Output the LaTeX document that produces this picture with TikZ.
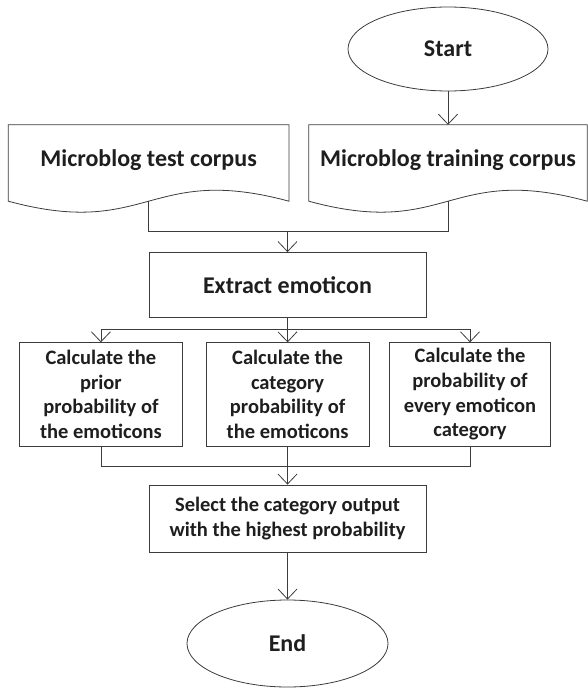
\documentclass[tikz,border=0pt]{standalone}
\usepackage{fontspec}
\setmainfont{Carlito}
\usetikzlibrary{arrows.meta,shapes.geometric,calc}
\definecolor{linegray}{HTML}{3C3C3C}
\definecolor{inkgray}{HTML}{1E1E1E}
\begin{document}
\begin{tikzpicture}[x=1pt,y=-1pt,
  every node/.style={text=inkgray,font=\bfseries},
  bigtext/.style={font=\fontsize{24}{28}\selectfont\bfseries},
  smalltext/.style={font=\fontsize{20.5}{24.6}\selectfont\bfseries},
  terminal/.style={ellipse,draw=linegray,line width=0.8pt,inner sep=0pt,bigtext},
  docbox/.style={rectangle,inner sep=0pt,bigtext,text height=18pt,text depth=12pt},
  procbox/.style={rectangle,draw=linegray,line width=0.8pt,inner sep=0pt,align=center},
  conn/.style={draw=linegray,line width=0.8pt},
  arr/.style={conn,-{Straight Barb[length=10pt,width=19pt]}}]
\useasboundingbox (0,0) rectangle (588,688);

% terminals
\node[terminal,minimum width=200pt,minimum height=84pt] (start) at (448,49) {Start};
\node[terminal,minimum width=201pt,minimum height=87pt] (end) at (287.5,643.5) {End};

% document-shaped inputs: text nodes, outline drawn from their anchors
\node[docbox,minimum width=280.2pt,minimum height=76pt] (test) at (148.6,163) {Microblog test corpus};
\node[docbox,minimum width=278pt,minimum height=76pt] (train) at (448,163) {Microblog training corpus};
\foreach \d in {test,train}{
  \draw[conn] (\d.south west) -- (\d.north west) -- (\d.north east) -- (\d.south east)
    .. controls ($(\d.south)+(0,-38)$) and ($(\d.south)+(0,38)$) .. (\d.south west) -- cycle;
}

% process steps
\node[procbox,bigtext,minimum width=277pt,minimum height=65pt] (extract) at (287.5,285) {Extract emoticon};
\node[procbox,smalltext,minimum width=163.7pt,minimum height=103.3pt] (c1) at (100.9,394.4)
  {Calculate the\\prior\\probability of\\the emoticons};
\node[procbox,smalltext,minimum width=163.3pt,minimum height=103.3pt] (c2) at (287.6,394.4)
  {Calculate the\\category\\probability of\\the emoticons};
\node[procbox,smalltext,minimum width=161.4pt,minimum height=103.3pt] (c3) at (470,394.4)
  {Calculate the\\probability of\\every emoticon\\category};
\node[procbox,smalltext,minimum width=277pt,minimum height=67pt] (select) at (287.5,518.5)
  {Select the category output\\with the highest probability};

% junction points
\coordinate (joinA) at (287.5,231);
\coordinate (split) at (287.5,329.3);
\coordinate (joinB) at (287.5,466.5);

% connectors
\draw[arr] (start.south) -- (train.north);
\draw[conn] (test.south) |- (joinA);
\draw[conn] (train.south) |- (joinA);
\draw[arr] (joinA) -- (extract.north);
\draw[conn] (extract.south) -- (split);
\draw[arr] (split) -| (c1.north);
\draw[arr] (split) -| (c3.north);
\draw[arr] (split) -- (c2.north);
\draw[conn] (c1.south) |- (joinB);
\draw[conn] (c3.south) |- (joinB);
\draw[conn] (c2.south) -- (joinB);
\draw[arr] (joinB) -- (select.north);
\draw[arr] (select.south) -- (end.north);
\end{tikzpicture}
\end{document}
